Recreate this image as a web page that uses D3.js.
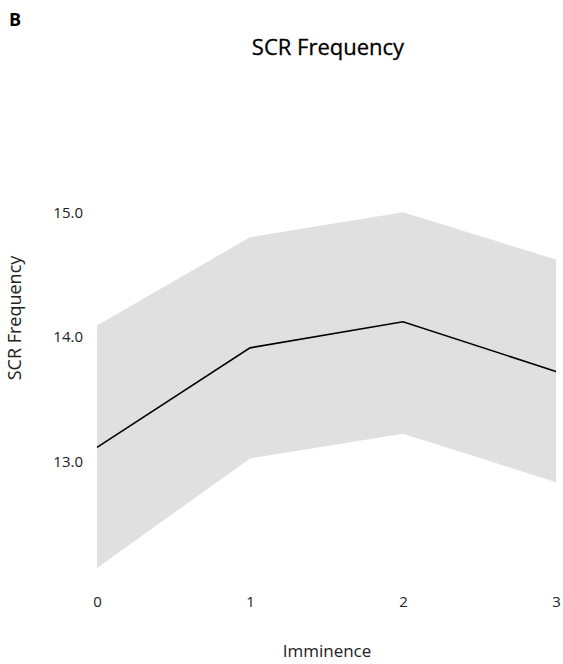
<!DOCTYPE html>
<html>
<head>
<meta charset="utf-8">
<script src="https://cdn.jsdelivr.net/npm/d3@7"></script>
<style>
  body { margin: 0; background: #fff; }
  text { font-family: "Open Sans", Lato, sans-serif; }
</style>
</head>
<body>
<div id="chart"></div>
<script>
// SCR frequency by imminence: mean line with shaded interval band.
const imminence = [0, 1, 2, 3];
const meanValues = [13.11, 13.91, 14.12, 13.72];
const upperValues = [14.09, 14.80, 15.00, 14.62];
const lowerValues = [12.14, 13.02, 13.22, 12.83];
const yTicks = [13.0, 14.0, 15.0];

const width = 563, height = 664;

const svg = d3.select("#chart").append("svg")
  .attr("width", width)
  .attr("height", height);

const x = d3.scaleLinear().domain([0, 3]).range([97, 556]);
const y = d3.scaleLinear().domain([13, 15]).range([461, 212.3]);

const rows = imminence.map((v, i) => ({
  x: v, mean: meanValues[i], lo: lowerValues[i], hi: upperValues[i]
}));

// band
svg.append("path")
  .datum(rows)
  .attr("fill", "#e0e0e0")
  .attr("d", d3.area().x(d => x(d.x)).y0(d => y(d.lo)).y1(d => y(d.hi)));

// mean line
svg.append("path")
  .datum(rows)
  .attr("fill", "none")
  .attr("stroke", "#000")
  .attr("stroke-width", 1.6)
  .attr("d", d3.line().x(d => x(d.x)).y(d => y(d.mean)));

// axes without domain lines or tick marks
const yAxis = svg.append("g")
  .attr("transform", "translate(83,0)")
  .call(d3.axisLeft(y).tickValues(yTicks).tickFormat(d3.format(".1f")).tickSize(0).tickPadding(0));
const xAxis = svg.append("g")
  .attr("transform", "translate(0,596)")
  .call(d3.axisBottom(x).tickValues(imminence).tickFormat(d3.format("d")).tickSize(0).tickPadding(0));
[yAxis, xAxis].forEach(g => {
  g.select(".domain").remove();
  g.selectAll("text")
    .attr("fill", "#222")
    .style("font-size", "15px")
    .style("font-family", "'Open Sans', Lato, sans-serif");
});
yAxis.selectAll("text").attr("dy", "0.35em");
xAxis.selectAll("text").attr("dy", "0.71em");

// titles
svg.append("text")
  .attr("x", 9).attr("y", 26)
  .attr("font-size", 18).attr("font-weight", 700)
  .attr("fill", "#000")
  .text("B");

svg.append("text")
  .attr("x", 328).attr("y", 55)
  .attr("text-anchor", "middle")
  .attr("font-size", 22).attr("font-weight", 500)
  .attr("fill", "#000")
  .attr("stroke", "#000").attr("stroke-width", 0.3)
  .text("SCR Frequency");

svg.append("text")
  .attr("x", 327).attr("y", 657)
  .attr("text-anchor", "middle")
  .attr("font-size", 17)
  .attr("fill", "#222")
  .text("Imminence");

svg.append("text")
  .attr("transform", "translate(21,318) rotate(-90)")
  .attr("text-anchor", "middle")
  .attr("font-size", 18)
  .attr("fill", "#222")
  .text("SCR Frequency");
</script>
</body>
</html>
